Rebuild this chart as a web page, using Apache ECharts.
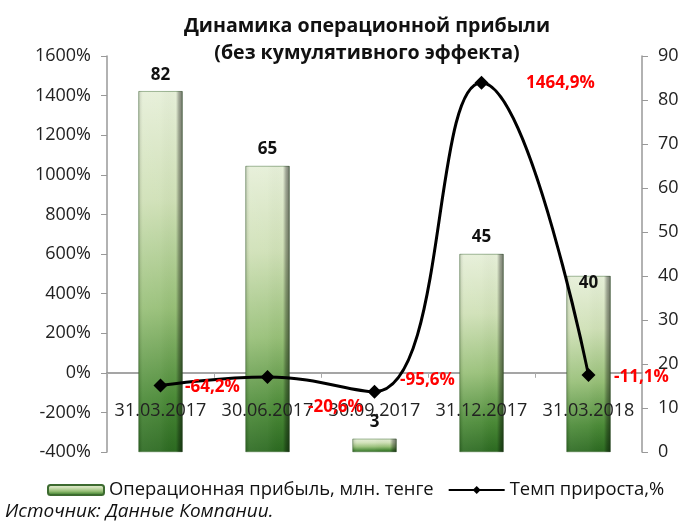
<!DOCTYPE html>
<html>
<head>
<meta charset="utf-8">
<script src="https://cdn.jsdelivr.net/npm/echarts@6/dist/echarts.min.js"></script>
<style>html,body{margin:0;padding:0;background:#fff}#c{width:690px;height:524px}</style>
</head>
<body>
<div id="c"></div>
<script>
const categories = ['31.03.2017', '30.06.2017', '30.09.2017', '31.12.2017', '31.03.2018'];
const profit = [82, 65, 3, 45, 40];
const growth = [-64.2, -20.6, -95.6, 1464.9, -11.1];
const growthLabels = ['-64,2%', '-20,6%', '-95,6%', '1464,9%', '-11,1%'];
const growthLabelOffsets = [[52, 2], [68, 30], [53, -12], [79, 0], [53, 2]];
const barLabelOffsets = [[0, 0], [0, 0], [0, 0], [0, 0], [0, 24]];

const FONT = 'Open Sans';
const chart = echarts.init(document.getElementById('c'), null, {renderer: 'canvas'});

const barGrad = new echarts.graphic.LinearGradient(0, 0, 0, 1, [
  {offset: 0, color: '#e6efd8'},
  {offset: 0.3, color: '#cfe0b6'},
  {offset: 0.6, color: '#97bf77'},
  {offset: 0.85, color: '#4b8a37'},
  {offset: 1, color: '#2b6920'}
]);
const bevelGrad = new echarts.graphic.LinearGradient(0, 0, 1, 0, [
  {offset: 0, color: 'rgba(0,0,0,0.15)'},
  {offset: 0.1, color: 'rgba(255,255,255,0.08)'},
  {offset: 0.5, color: 'rgba(255,255,255,0.05)'},
  {offset: 0.85, color: 'rgba(0,0,0,0.0)'},
  {offset: 0.92, color: 'rgba(0,0,0,0.3)'},
  {offset: 1, color: 'rgba(0,0,0,0.5)'}
]);

chart.setOption({
  animation: false,
  backgroundColor: '#fff',
  title: {
    text: 'Динамика операционной прибыли\n(без кумулятивного эффекта)',
    left: 362, top: 8, textAlign: 'center',
    textStyle: {fontFamily: FONT, fontWeight: 'bold', fontSize: 19.6, lineHeight: 27, color: '#111'}
  },
  legend: {
    data: ['Операционная прибыль, млн. тенге', 'Темп прироста,%'],
    left: 42, top: 476, itemWidth: 56, itemHeight: 10, itemGap: 14,
    textStyle: {fontFamily: FONT, fontSize: 18.4, color: '#111'}
  },
  graphic: [{
    type: 'text', left: 5, top: 502,
    style: {text: 'Источник: Данные Компании.', font: 'italic 19px "Open Sans"', fill: '#111'}
  }],
  grid: {left: 107, right: 48, top: 56, bottom: 72},
  xAxis: [{
    type: 'category', data: categories,
    axisLine: {onZero: true, onZeroAxisIndex: 0, lineStyle: {color: '#888', width: 1.5}},
    axisTick: {show: true, length: 5, lineStyle: {color: '#aaa'}},
    axisLabel: {show: false}
  }, {
    type: 'category', data: categories, position: 'bottom', offset: -78, z: 10,
    axisLine: {show: false, onZero: false},
    axisTick: {show: false},
    axisLabel: {interval: 0, fontFamily: FONT, fontSize: 18, color: '#222', margin: 28}
  }],
  yAxis: [{
    type: 'value', min: -400, max: 1600, interval: 200, position: 'left',
    axisLine: {show: true, lineStyle: {color: '#999', width: 1.5}},
    axisTick: {show: true, length: 6, lineStyle: {color: '#999'}},
    splitLine: {show: false},
    axisLabel: {formatter: v => v + '%', fontFamily: FONT, fontSize: 18, color: '#222', margin: 16}
  }, {
    type: 'value', min: 0, max: 90, interval: 10, position: 'right',
    axisLine: {show: true, lineStyle: {color: '#999', width: 1.5}},
    axisTick: {show: true, length: 6, lineStyle: {color: '#999'}},
    splitLine: {show: false},
    axisLabel: {fontFamily: FONT, fontSize: 18, color: '#222', margin: 16}
  }],
  series: [{
    name: 'Операционная прибыль, млн. тенге', type: 'bar', yAxisIndex: 1, barWidth: 44,
    itemStyle: {color: barGrad, borderColor: '#3d6b30', borderWidth: 0.5},
    data: profit.map((v, i) => ({
      value: v,
      label: {show: true, position: 'top', distance: 8, offset: barLabelOffsets[i],
        fontFamily: FONT, fontWeight: 'bold', fontSize: 17, color: '#111'}
    }))
  }, {
    type: 'bar', yAxisIndex: 1, barWidth: 44, barGap: '-100%', silent: true,
    itemStyle: {color: bevelGrad},
    data: profit.slice()
  }, {
    name: 'Темп прироста,%', type: 'line', yAxisIndex: 0, smooth: 0.45,
    symbol: 'diamond', symbolSize: 14,
    lineStyle: {color: '#000', width: 3},
    itemStyle: {color: '#000'},
    z: 12,
    data: growth.map((v, i) => ({
      value: v,
      label: {show: true, position: 'inside', offset: growthLabelOffsets[i],
        formatter: growthLabels[i], fontFamily: FONT, fontWeight: 'bold', fontSize: 17, color: '#ff0000'}
    }))
  }]
});
</script>
</body>
</html>
